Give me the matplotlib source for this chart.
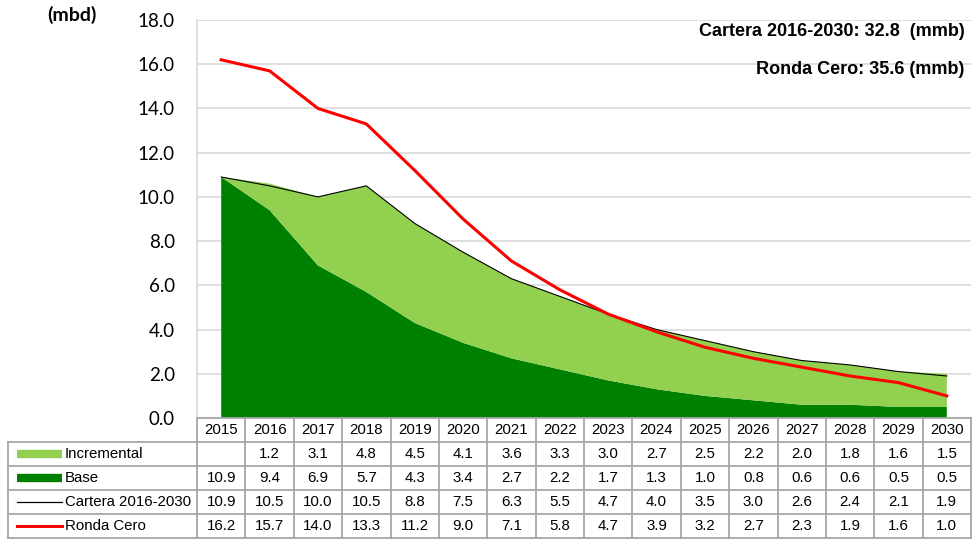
import numpy as np
import matplotlib.pyplot as plt

# data (mbd)
years = [str(y) for y in range(2015, 2031)]
incremental = [np.nan, 1.2, 3.1, 4.8, 4.5, 4.1, 3.6, 3.3, 3.0, 2.7, 2.5, 2.2, 2.0, 1.8, 1.6, 1.5]
base = [10.9, 9.4, 6.9, 5.7, 4.3, 3.4, 2.7, 2.2, 1.7, 1.3, 1.0, 0.8, 0.6, 0.6, 0.5, 0.5]
cartera = [10.9, 10.5, 10.0, 10.5, 8.8, 7.5, 6.3, 5.5, 4.7, 4.0, 3.5, 3.0, 2.6, 2.4, 2.1, 1.9]
ronda = [16.2, 15.7, 14.0, 13.3, 11.2, 9.0, 7.1, 5.8, 4.7, 3.9, 3.2, 2.7, 2.3, 1.9, 1.6, 1.0]
yticks = np.arange(0, 18.1, 2.0)
note1 = "Cartera 2016-2030: 32.8  (mmb)"
note2 = "Ronda Cero: 35.6 (mmb)"

c_base = "#008000"
c_inc = "#92D050"
c_red = "#FF0000"
c_grid = "#D9D9D9"
c_tab = "#A6A6A6"

W, H = 972, 539
fig = plt.figure(figsize=(W / 100, H / 100), dpi=100)

left, right, top, bot = 197, 971, 20, 418
ax = fig.add_axes([left / W, 1 - bot / H, (right - left) / W, (bot - top) / H])

x = np.arange(len(years))
inc0 = np.nan_to_num(incremental)
ax.stackplot(x, base, inc0, colors=[c_base, c_inc], linewidth=0)
ax.plot(x, cartera, color="black", lw=0.8)
ax.plot(x, ronda, color=c_red, lw=2.2)

ax.set_xlim(-0.5, len(years) - 0.5)
ax.set_ylim(0, 18)
ax.set_yticks(yticks)
ax.set_yticklabels([f"{v:.1f}" for v in yticks], family="Lato", fontsize=13.5)
ax.tick_params(axis="y", length=0, pad=16)
ax.set_xticks([])
ax.grid(axis="y", color=c_grid, lw=1.2)
ax.set_axisbelow(True)
for s in ["top", "right", "bottom"]:
    ax.spines[s].set_visible(False)
ax.spines["left"].set_color(c_grid)
ax.spines["left"].set_linewidth(1.2)

fig.text(72 / W, 1 - 15 / H, "(mbd)", family="Lato", fontweight="bold", fontsize=14,
         ha="center", va="center")
ax.text(0.992, 0.97, note1, transform=ax.transAxes, ha="right", va="center",
        family="Liberation Sans", fontweight="bold", fontsize=13)
ax.text(0.992, 0.875, note2, transform=ax.transAxes, ha="right", va="center",
        family="Liberation Sans", fontweight="bold", fontsize=13)

# data table under the chart
tb = fig.add_axes([left / W, 1 / H, (right - left) / W, (H - bot - 1) / H])
tb.set_xlim(-0.5, len(years) - 0.5)
tb.set_ylim(5, 0)
tb.axis("off")

colw = (right - left) / len(years)
x0 = -0.5 - (left - 8) / colw
key_a = -0.5 - (left - 17) / colw
key_b = -0.5 - (left - 62) / colw
txt_x = -0.5 - (left - 65) / colw

lk = dict(color=c_tab, lw=1.3, clip_on=False)
tb.plot([-0.5, len(years) - 0.5], [0, 0], **lk)
for r in range(1, 6):
    tb.plot([x0, len(years) - 0.5], [r, r], **lk)
tb.plot([x0, x0], [1, 5], **lk)
for i in range(len(years) + 1):
    tb.plot([i - 0.5, i - 0.5], [0, 5], **lk)

tf = dict(family="Liberation Sans", fontsize=10.8, ha="center", va="center")
for i, yr in enumerate(years):
    tb.text(i, 0.5, yr, **tf)

rows = [("Incremental", incremental), ("Base", base),
        ("Cartera 2016-2030", cartera), ("Ronda Cero", ronda)]
keys = [dict(color=c_inc, lw=6, solid_capstyle="butt"),
        dict(color=c_base, lw=6, solid_capstyle="butt"),
        dict(color="black", lw=0.9),
        dict(color=c_red, lw=2.2)]
for r, ((name, vals), ks) in enumerate(zip(rows, keys), start=1):
    yc = r + 0.5
    tb.plot([key_a, key_b], [yc, yc], clip_on=False, **ks)
    tb.text(txt_x, yc, name, family="Liberation Sans", fontsize=10.8,
            ha="left", va="center")
    for i, v in enumerate(vals):
        if not np.isnan(v):
            tb.text(i, yc, f"{v:.1f}", **tf)

fig.savefig("out.png", dpi=100)
